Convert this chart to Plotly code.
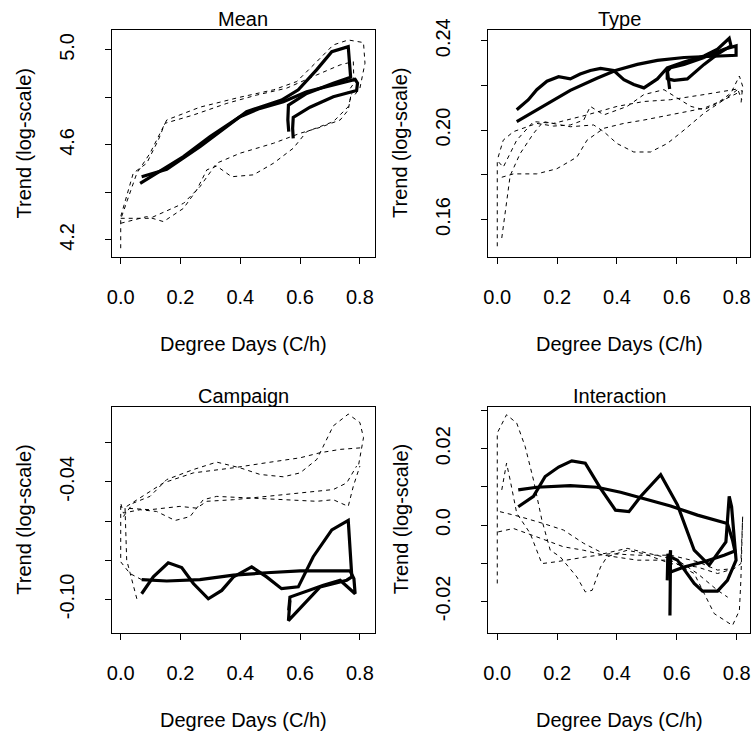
import plotly.graph_objects as go

# ---------------- data ----------------
x_ticks = [0.0, 0.2, 0.4, 0.6, 0.8]
x_ticktext = ["0.0", "0.2", "0.4", "0.6", "0.8"]

# Panel: Mean
mean_fit_x = [0.065, 0.120, 0.210, 0.299, 0.399, 0.466, 0.544, 0.622, 0.711, 0.784, 0.792, 0.789, 0.711, 0.633, 0.577, 0.575, 0.577]
mean_fit_y = [4.438, 4.480, 4.551, 4.635, 4.719, 4.754, 4.782, 4.824, 4.853, 4.876, 4.860, 4.829, 4.803, 4.759, 4.716, 4.670, 4.628]
mean_raw_x = [0.070, 0.154, 0.265, 0.355, 0.421, 0.488, 0.538, 0.594, 0.655, 0.706, 0.761, 0.769, 0.711, 0.622, 0.561, 0.559, 0.562]
mean_raw_y = [4.466, 4.497, 4.593, 4.677, 4.740, 4.768, 4.789, 4.832, 4.916, 4.993, 5.014, 4.885, 4.860, 4.817, 4.768, 4.705, 4.656]
mean_b1_x = [0.0, 0.0, 0.042, 0.087, 0.126, 0.148, 0.243, 0.355, 0.455, 0.555, 0.656, 0.734, 0.778, 0.780, 0.756]
mean_b1_y = [4.165, 4.298, 4.481, 4.523, 4.621, 4.691, 4.726, 4.775, 4.810, 4.839, 4.895, 4.937, 4.951, 4.860, 4.817]
mean_b2_x = [0.003, 0.054, 0.098, 0.154, 0.265, 0.399, 0.511, 0.589, 0.656, 0.711, 0.761, 0.812, 0.817, 0.800, 0.778]
mean_b2_y = [4.298, 4.481, 4.565, 4.705, 4.759, 4.801, 4.832, 4.867, 4.951, 5.021, 5.042, 5.031, 4.944, 4.839, 4.803]
mean_b3_x = [0.0, 0.087, 0.143, 0.210, 0.254, 0.288, 0.321, 0.371, 0.444, 0.511, 0.577, 0.622, 0.711, 0.761, 0.773]
mean_b3_y = [4.270, 4.298, 4.277, 4.333, 4.410, 4.495, 4.511, 4.466, 4.474, 4.523, 4.586, 4.656, 4.698, 4.761, 4.817]
mean_b4_x = [0.0, 0.098, 0.210, 0.265, 0.321, 0.399, 0.511, 0.600, 0.667, 0.734, 0.761, 0.769]
mean_b4_y = [4.291, 4.291, 4.354, 4.424, 4.523, 4.565, 4.607, 4.649, 4.674, 4.705, 4.747, 4.803]
mean_yticks = [4.2, 4.4, 4.6, 4.8, 5.0]
mean_yticktext = ["4.2", "", "4.6", "", "5.0"]

# Panel: Type
type_fit_x = [0.065, 0.154, 0.244, 0.333, 0.395, 0.468, 0.535, 0.624, 0.714, 0.798, 0.798, 0.758, 0.691, 0.624, 0.579, 0.568, 0.568]
type_fit_y = [0.2038, 0.2109, 0.2178, 0.2232, 0.2267, 0.2294, 0.2312, 0.2325, 0.2332, 0.2335, 0.2377, 0.2362, 0.2325, 0.2294, 0.2279, 0.2264, 0.2226]
type_raw_x = [0.065, 0.104, 0.132, 0.166, 0.205, 0.244, 0.277, 0.311, 0.345, 0.389, 0.423, 0.456, 0.490, 0.535, 0.568, 0.624, 0.691, 0.736, 0.775, 0.781, 0.736, 0.691, 0.635, 0.591, 0.570, 0.568, 0.576]
type_raw_y = [0.2091, 0.2136, 0.2181, 0.2219, 0.2239, 0.2229, 0.2251, 0.2267, 0.2276, 0.2267, 0.2226, 0.2204, 0.2189, 0.2229, 0.2279, 0.2305, 0.2332, 0.2362, 0.2411, 0.2377, 0.2340, 0.2294, 0.2229, 0.2223, 0.2229, 0.2272, 0.2184]
type_b1_x = [0.003, 0.020, 0.054, 0.132, 0.188, 0.244, 0.289, 0.311, 0.356, 0.434, 0.490, 0.557, 0.602, 0.647, 0.691, 0.736, 0.781, 0.809, 0.820, 0.814]
type_b1_y = [0.1879, 0.1955, 0.1993, 0.2030, 0.2018, 0.2023, 0.2045, 0.2106, 0.2068, 0.2106, 0.2159, 0.2181, 0.2143, 0.2106, 0.2091, 0.2121, 0.2166, 0.2242, 0.2196, 0.2113]
type_b2_x = [0.015, 0.054, 0.132, 0.199, 0.266, 0.300, 0.356, 0.423, 0.490, 0.546, 0.602, 0.691, 0.758, 0.803, 0.820]
type_b2_y = [0.1789, 0.1804, 0.1804, 0.1827, 0.1879, 0.1955, 0.2008, 0.2030, 0.2045, 0.2060, 0.2076, 0.2098, 0.2136, 0.2181, 0.2174]
type_b3_x = [0.015, 0.031, 0.043, 0.076, 0.121, 0.154, 0.244, 0.322, 0.356, 0.400, 0.456, 0.512, 0.568, 0.624, 0.691, 0.758, 0.803]
type_b3_y = [0.1517, 0.1683, 0.1796, 0.1894, 0.1985, 0.2038, 0.2015, 0.2023, 0.1993, 0.1940, 0.1902, 0.1902, 0.1940, 0.2000, 0.2076, 0.2136, 0.2166]
type_b4_x = [0.0, 0.0, 0.020, 0.065, 0.121, 0.188, 0.300, 0.400, 0.490, 0.579, 0.691, 0.758, 0.803, 0.817]
type_b4_y = [0.1480, 0.1864, 0.1834, 0.1955, 0.2038, 0.2030, 0.2068, 0.2106, 0.2128, 0.2136, 0.2159, 0.2174, 0.2184, 0.2136]
type_yticks = [0.16, 0.18, 0.20, 0.22, 0.24]
type_yticktext = ["0.16", "", "0.20", "", "0.24"]

# Panel: Campaign
camp_fit_x = [0.070, 0.154, 0.265, 0.377, 0.488, 0.600, 0.767, 0.780, 0.784, 0.734, 0.678, 0.622, 0.566, 0.562]
camp_fit_y = [-0.0899, -0.0906, -0.0899, -0.0876, -0.0864, -0.0854, -0.0854, -0.0894, -0.0971, -0.0902, -0.0928, -0.0957, -0.0988, -0.1056]
camp_raw_x = [0.070, 0.109, 0.159, 0.204, 0.243, 0.293, 0.338, 0.377, 0.438, 0.488, 0.538, 0.594, 0.644, 0.706, 0.761, 0.773, 0.756, 0.667, 0.561, 0.566]
camp_raw_y = [-0.0971, -0.0885, -0.0813, -0.0837, -0.0919, -0.0997, -0.0954, -0.0885, -0.0834, -0.0885, -0.0945, -0.0936, -0.0782, -0.0645, -0.0597, -0.0885, -0.0902, -0.0936, -0.1108, -0.1005]
camp_b1_x = [0.009, 0.042, 0.098, 0.154, 0.243, 0.321, 0.399, 0.466, 0.544, 0.600, 0.656, 0.711, 0.761, 0.800, 0.812, 0.795]
camp_b1_y = [-0.0577, -0.0508, -0.0474, -0.0388, -0.0337, -0.0299, -0.0328, -0.0362, -0.0374, -0.0354, -0.0285, -0.0114, -0.0054, -0.0097, -0.0174, -0.0319]
camp_b2_x = [0.020, 0.065, 0.143, 0.243, 0.377, 0.488, 0.600, 0.667, 0.734, 0.812]
camp_b2_y = [-0.0525, -0.0482, -0.0405, -0.0354, -0.0328, -0.0302, -0.0277, -0.0251, -0.0234, -0.0225]
camp_b3_x = [0.070, 0.031, 0.0, 0.0, 0.009, 0.065, 0.120, 0.182, 0.232, 0.276, 0.321, 0.433, 0.544, 0.656, 0.711, 0.761, 0.778, 0.800]
camp_b3_y = [-0.0899, -0.0868, -0.0808, -0.0508, -0.0559, -0.0542, -0.0551, -0.0597, -0.0577, -0.0491, -0.0474, -0.0482, -0.0491, -0.0499, -0.0491, -0.0525, -0.0422, -0.0319]
camp_b4_x = [0.054, 0.037, 0.020, 0.0145, 0.098, 0.198, 0.254, 0.288, 0.377, 0.488, 0.600, 0.711, 0.756, 0.789]
camp_b4_y = [-0.0997, -0.0902, -0.0799, -0.0534, -0.0542, -0.0525, -0.0534, -0.0499, -0.0491, -0.0474, -0.0457, -0.0439, -0.0405, -0.0319]
camp_yticks = [-0.10, -0.08, -0.06, -0.04, -0.02]
camp_yticktext = ["-0.10", "", "", "-0.04", ""]

# Panel: Interaction
inter_fit_x = [0.070, 0.132, 0.244, 0.333, 0.412, 0.490, 0.579, 0.669, 0.769, 0.786, 0.794, 0.758, 0.691, 0.624, 0.579, 0.570, 0.568]
inter_fit_y = [0.0092, 0.0099, 0.0103, 0.0099, 0.0086, 0.0070, 0.0050, 0.0026, 0.0004, -0.0039, -0.0068, -0.0079, -0.0096, -0.0110, -0.0123, -0.0075, -0.0145]
inter_raw_x = [0.070, 0.121, 0.160, 0.205, 0.249, 0.294, 0.345, 0.395, 0.440, 0.479, 0.546, 0.602, 0.658, 0.708, 0.764, 0.775, 0.783, 0.798, 0.769, 0.736, 0.686, 0.658, 0.602, 0.577, 0.579, 0.577]
inter_raw_y = [0.0048, 0.0075, 0.0127, 0.0152, 0.0168, 0.0162, 0.0096, 0.0039, 0.0035, 0.0075, 0.0132, 0.0053, -0.0066, -0.0105, -0.0044, 0.0075, 0.0048, -0.0092, -0.0145, -0.0173, -0.0173, -0.0153, -0.0092, -0.0083, -0.0066, -0.0237]
inter_b1_x = [0.0, 0.0, 0.031, 0.065, 0.093, 0.121, 0.149, 0.177, 0.210, 0.266, 0.294, 0.317, 0.345, 0.367, 0.434, 0.490, 0.579, 0.669, 0.736, 0.792]
inter_b1_y = [-0.0153, 0.0241, 0.0289, 0.0267, 0.0206, 0.0118, 0.0013, -0.0066, -0.0083, -0.0136, -0.0175, -0.0171, -0.0110, -0.0083, -0.0066, -0.0075, -0.0101, -0.0110, -0.0127, -0.0114]
inter_b2_x = [0.015, 0.031, 0.043, 0.065, 0.110, 0.149, 0.199, 0.300, 0.378, 0.468, 0.579, 0.669, 0.736, 0.792, 0.814, 0.820]
inter_b2_y = [0.0092, 0.0162, 0.0118, 0.0031, -0.0022, -0.0101, -0.0096, -0.0083, -0.0075, -0.0079, -0.0079, -0.0096, -0.0118, -0.0114, -0.0101, 0.0022]
inter_b3_x = [0.009, 0.076, 0.154, 0.221, 0.289, 0.356, 0.434, 0.512, 0.602, 0.669, 0.736, 0.770]
inter_b3_y = [0.0035, 0.0022, 0.0004, -0.0013, -0.0048, -0.0075, -0.0061, -0.0075, -0.0092, -0.0127, -0.0171, -0.0189]
inter_b4_x = [0.003, 0.054, 0.132, 0.221, 0.289, 0.356, 0.468, 0.579, 0.658, 0.691, 0.725, 0.786, 0.809, 0.814, 0.820]
inter_b4_y = [-0.0018, -0.0009, -0.0031, -0.0057, -0.0066, -0.0079, -0.0092, -0.0092, -0.0127, -0.0180, -0.0232, -0.0263, -0.0224, -0.0145, 0.0026]
inter_yticks = [-0.02, -0.01, 0.0, 0.01, 0.02, 0.03]
inter_yticktext = ["-0.02", "", "0.0", "", "0.02", ""]

titles = ["Mean", "Type", "Campaign", "Interaction"]
x_title = "Degree Days (C/h)"
y_title = "Trend (log-scale)"

# ---------------- figure ----------------
W, H = 752, 735
FONT = "Liberation Sans, Arial, Helvetica, sans-serif"
FS = 20

panels = [
    dict(fit=(mean_fit_x, mean_fit_y), raw=(mean_raw_x, mean_raw_y),
         bands=[(mean_b1_x, mean_b1_y), (mean_b2_x, mean_b2_y), (mean_b3_x, mean_b3_y), (mean_b4_x, mean_b4_y)],
         yt=mean_yticks, ytt=mean_yticktext, yr=[4.128, 5.084],
         px=(111.5, 375.0), py=(30.0, 257.0), xr=[-0.0308, 0.8505]),
    dict(fit=(type_fit_x, type_fit_y), raw=(type_raw_x, type_raw_y),
         bands=[(type_b1_x, type_b1_y), (type_b2_x, type_b2_y), (type_b3_x, type_b3_y), (type_b4_x, type_b4_y)],
         yt=type_yticks, ytt=type_yticktext, yr=[0.1432, 0.2448],
         px=(488.0, 750.0), py=(30.0, 257.0), xr=[-0.031, 0.8445]),
    dict(fit=(camp_fit_x, camp_fit_y), raw=(camp_raw_x, camp_raw_y),
         bands=[(camp_b1_x, camp_b1_y), (camp_b2_x, camp_b2_y), (camp_b3_x, camp_b3_y), (camp_b4_x, camp_b4_y)],
         yt=camp_yticks, ytt=camp_yticktext, yr=[-0.117, -0.0016],
         px=(111.5, 375.0), py=(406.7, 632.7), xr=[-0.0308, 0.8505]),
    dict(fit=(inter_fit_x, inter_fit_y), raw=(inter_raw_x, inter_raw_y),
         bands=[(inter_b1_x, inter_b1_y), (inter_b2_x, inter_b2_y), (inter_b3_x, inter_b3_y), (inter_b4_x, inter_b4_y)],
         yt=inter_yticks, ytt=inter_yticktext, yr=[-0.0282, 0.031],
         px=(488.0, 750.0), py=(406.7, 632.7), xr=[-0.031, 0.8445]),
]

fig = go.Figure()
layout = dict(
    width=W, height=H, margin=dict(l=0, r=0, t=0, b=0),
    paper_bgcolor="white", plot_bgcolor="white", showlegend=False,
    font=dict(family=FONT, size=FS, color="black"),
)
annotations = []

X_LABEL_GAP = 22   # invisible tick length placing x tick labels below the box
Y_LABEL_GAP = 29   # invisible tick length placing y tick labels left of the box

for i, p in enumerate(panels):
    n = "" if i == 0 else str(i + 1)
    m = str(i + 5)  # overlay axes that carry only the tick labels
    xa, ya = "x" + n, "y" + n
    for bx, by in p["bands"]:
        fig.add_trace(go.Scatter(x=bx, y=by, mode="lines", xaxis=xa, yaxis=ya,
                                 line=dict(color="black", width=1, dash="4px,4px"),
                                 hoverinfo="skip"))
    for sx, sy in (p["fit"], p["raw"]):
        fig.add_trace(go.Scatter(x=sx, y=sy, mode="lines", xaxis=xa, yaxis=ya,
                                 line=dict(color="black", width=3.2),
                                 hoverinfo="skip"))
    fig.add_trace(go.Scatter(x=[None], y=[None], mode="lines", xaxis="x" + m, yaxis="y" + m,
                             hoverinfo="skip"))
    x0, x1 = p["px"]
    y0, y1 = p["py"]
    xdom = [x0 / W, x1 / W]
    ydom = [1 - y1 / H, 1 - y0 / H]
    common = dict(showgrid=False, zeroline=False, automargin=False, tickwidth=1,
                  tickfont=dict(family=FONT, size=FS, color="black"), tickmode="array")
    layout["xaxis" + n] = dict(common, domain=xdom, anchor=ya, range=p["xr"],
                               tickvals=x_ticks, showticklabels=False,
                               showline=True, linecolor="black", linewidth=1, mirror=True,
                               ticks="outside", ticklen=6, tickcolor="black")
    layout["yaxis" + n] = dict(common, domain=ydom, anchor=xa, range=p["yr"],
                               tickvals=p["yt"], showticklabels=False,
                               showline=True, linecolor="black", linewidth=1, mirror=True,
                               ticks="outside", ticklen=6, tickcolor="black")
    layout["xaxis" + m] = dict(common, domain=xdom, anchor="y" + m, overlaying=xa, range=p["xr"],
                               tickvals=x_ticks, ticktext=x_ticktext, showline=False,
                               ticks="outside", ticklen=X_LABEL_GAP, tickcolor="rgba(0,0,0,0)")
    layout["yaxis" + m] = dict(common, domain=ydom, anchor="x" + m, overlaying=ya, range=p["yr"],
                               tickvals=p["yt"], ticktext=p["ytt"], tickangle=-90, showline=False,
                               ticks="outside", ticklen=Y_LABEL_GAP, tickcolor="rgba(0,0,0,0)")
    cx = (x0 + x1) / 2
    annotations.append(dict(text=titles[i], x=cx / W, y=1 - (y0 - 11) / H, xref="paper", yref="paper",
                            showarrow=False, xanchor="center", yanchor="middle",
                            font=dict(family=FONT, size=FS, color="black")))
    annotations.append(dict(text=x_title, x=cx / W, y=1 - (y1 + 87) / H, xref="paper", yref="paper",
                            showarrow=False, xanchor="center", yanchor="middle",
                            font=dict(family=FONT, size=FS, color="black")))
    annotations.append(dict(text=y_title, x=(x0 - 87.5) / W, y=1 - (y0 + y1) / 2 / H, xref="paper", yref="paper",
                            showarrow=False, xanchor="center", yanchor="middle", textangle=-90,
                            font=dict(family=FONT, size=FS, color="black")))

layout["annotations"] = annotations
fig.update_layout(**layout)
fig.write_html("out.html")
